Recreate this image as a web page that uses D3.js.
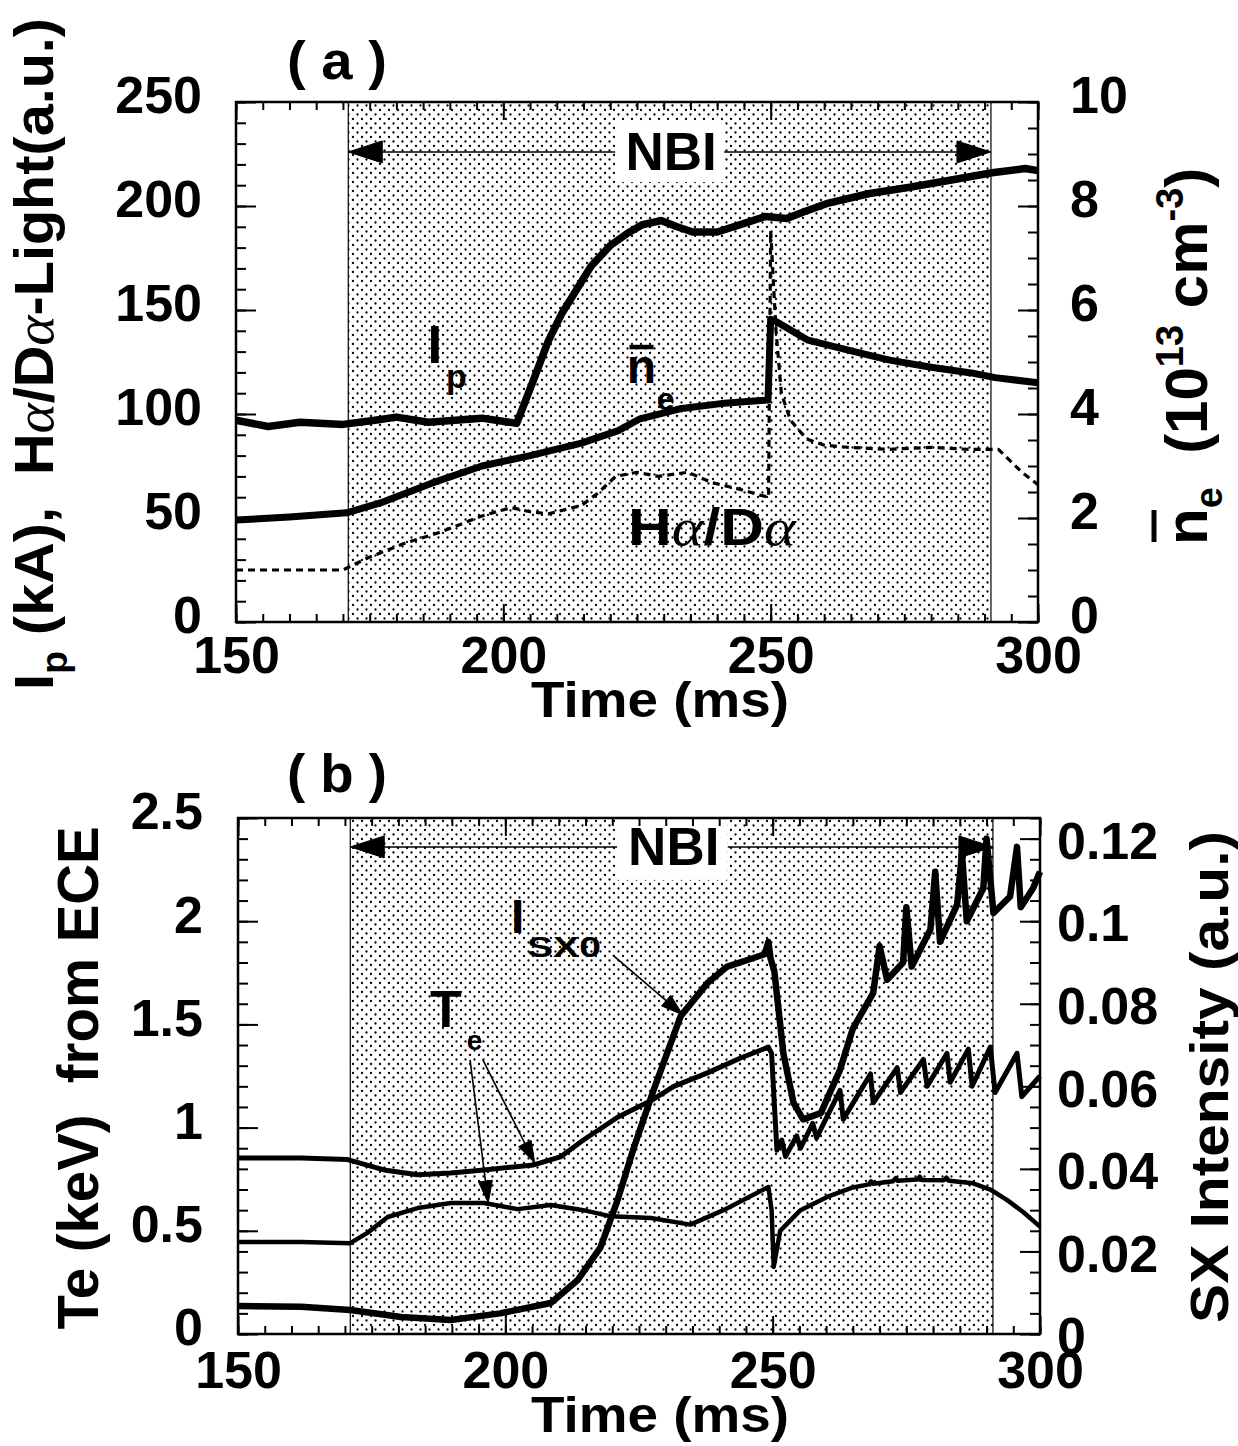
<!DOCTYPE html>
<html>
<head>
<meta charset="utf-8">
<script src="https://cdn.jsdelivr.net/npm/d3@7"></script>
<style>
  body { margin: 0; background: #fff; }
  svg text { font-family: "Liberation Sans", Arial, Helvetica, sans-serif; font-weight: bold; white-space: pre; }
  .greek { font-family: "Liberation Serif", "DejaVu Serif", serif; font-style: italic; font-weight: normal; }
</style>
</head>
<body>
<div id="chart"></div>
<script>
// ---- data ----
const timeDomain = [150, 300];
const nbiWindow = [171, 291.2];
const timeTicks = [150, 200, 250, 300];

// panel (a): plasma current (kA), line density (1e13 cm^-3), H-alpha/D-alpha light (a.u.)
const ipData = [[150,97],[156,94],[162,96],[170,95],[176,97],[180,98.5],[186,96],[196,98],[202.5,95.5],
  [205.6,116],[208.4,135],[211,148.6],[216.4,171],[220,181],[223.3,187],[226,191],[229.5,193],[232.5,190],
  [235.4,187.5],[240,187.5],[245.5,192],[249,195],[253,194],[256,197],[260.8,201.4],[268.5,206],[276,209],
  [283.8,212.5],[291.4,216],[297.6,218],[300,217]];
const neData = [[150,1.96],[160,2.02],[170.7,2.1],[177,2.29],[186.6,2.67],[196,3.0],[205,3.2],[214.6,3.44],
  [221.5,3.68],[225.4,3.9],[233,4.1],[240.7,4.2],[249.5,4.27],[250,5.82],[251,5.78],[257,5.42],[264.5,5.23],
  [272,5.04],[280,4.9],[287.5,4.79],[292,4.7],[300,4.6]];
const haData = [[150,25],[170,25],[174.8,31],[181.7,38],[188,43],[196,51],[201.5,55],[205,53],[208.4,52],
  [214.6,56],[217.7,62],[221,70],[225,72],[229,70],[234.5,72],[239,67],[244,64],[248,61],[249.6,60],
  [250,188],[251,140],[252,110],[253.7,97],[256.7,88],[260,85],[264.4,84],[272,83],[280,84],[287,83],
  [292.6,83],[295,77],[297,72],[300,66]];
const aLeftTicks = [0, 50, 100, 150, 200, 250];
const aRightTicks = [0, 2, 4, 6, 8, 10];

// panel (b): electron temperature from ECE (keV), soft X-ray intensity (a.u.)
const te1Data = [[150,0.853],[161.8,0.853],[170.5,0.845],[177.3,0.795],[183.6,0.772],[189.8,0.78],[196,0.795],
  [205.3,0.819],[210.3,0.858],[214.6,0.94],[221,1.05],[227.2,1.13],[231.5,1.2],[237.8,1.265],[244,1.337],
  [249.2,1.39],[249.8,1.36],[250.3,1.12],[250.8,0.89],[251.7,0.94],[252.4,0.86],[254.5,0.96],[255.2,0.9],
  [257.5,1.02],[258.2,0.95],[262.6,1.18],[263.2,1.04],[268.3,1.26],[268.8,1.12],[273.3,1.29],[273.9,1.17],
  [278.2,1.33],[278.9,1.2],[282.6,1.36],[283.2,1.22],[286.6,1.38],[287.3,1.2],[290.7,1.39],[291.6,1.17],
  [295.7,1.36],[296.6,1.15],[300,1.25]];
const te2Data = [[150,0.446],[161.8,0.446],[171,0.44],[174.2,0.49],[178,0.567],[183.6,0.61],[189.8,0.635],
  [196,0.635],[202.3,0.605],[208.5,0.625],[214.6,0.6],[219.7,0.57],[227.2,0.562],[234.6,0.53],[240.8,0.6],
  [249.2,0.712],[249.8,0.6],[250.2,0.325],[251.4,0.5],[255.2,0.6],[260.2,0.664],[265,0.71],[268,0.725],
  [268.4,0.74],[268.8,0.728],[272.5,0.74],[273,0.755],[273.4,0.742],[277,0.748],[277.5,0.762],[277.9,0.746],
  [282,0.745],[282.5,0.758],[283,0.742],[287.5,0.73],[290.7,0.70],[293.8,0.65],[296.9,0.59],[300,0.52]];
const sxData = [[150,0.0068],[161.8,0.0066],[171,0.0058],[180.5,0.0041],[189.8,0.0034],[199,0.005],
  [208.5,0.0075],[213.5,0.013],[217.8,0.021],[221,0.0325],[224,0.045],[227.7,0.059],[232.8,0.077],
  [237.8,0.085],[241.5,0.089],[245.3,0.0906],[248.5,0.092],[249.2,0.095],[249.6,0.091],[250.3,0.088],
  [252,0.068],[253.9,0.056],[255.7,0.052],[259,0.0535],[262.6,0.064],[265,0.074],[268.8,0.0826],[270,0.094],
  [271.4,0.0858],[274.4,0.09],[275,0.1034],[276,0.089],[279.5,0.098],[280.4,0.112],[281.3,0.095],
  [284.5,0.104],[285.4,0.1165],[286.3,0.1],[289.4,0.108],[290,0.12],[291.3,0.102],[294.4,0.106],
  [295.7,0.118],[296.4,0.1034],[298.7,0.108],[300,0.112]];
const bLeftTicks = [0, 0.5, 1, 1.5, 2, 2.5];
const bRightTicks = [0, 0.02, 0.04, 0.06, 0.08, 0.1, 0.12];

// ---- svg ----
const svg = d3.select("#chart").append("svg").attr("width", 1238).attr("height", 1446);

const pat = svg.append("defs").append("pattern")
  .attr("id", "dots").attr("patternUnits", "userSpaceOnUse")
  .attr("width", 9).attr("height", 9);
pat.append("rect").attr("width", 9).attr("height", 9).attr("fill", "#fff");
pat.append("circle").attr("cx", 2).attr("cy", 2).attr("r", 1.15).attr("fill", "#000");
pat.append("circle").attr("cx", 6.5).attr("cy", 6.5).attr("r", 1.15).attr("fill", "#000");

// line with a solid triangular head at (x2, y2)
function arrow(g, x1, y1, x2, y2, len, hw, sw) {
  const a = Math.atan2(y2 - y1, x2 - x1);
  const c = Math.cos(a), s = Math.sin(a);
  const bx = x2 - len * c, by = y2 - len * s;
  g.append("line").attr("x1", x1).attr("y1", y1).attr("x2", bx).attr("y2", by)
    .attr("stroke", "#000").attr("stroke-width", sw);
  g.append("path")
    .attr("d", `M${x2},${y2}L${bx - s * hw},${by + c * hw}L${bx + s * hw},${by - c * hw}Z`)
    .attr("fill", "#000").attr("stroke", "#000").attr("stroke-width", 1).attr("stroke-linejoin", "miter");
}

function tickAxis(g, axisFn, scale, values, len, translate, pad, fmt, dy) {
  const ax = axisFn(scale).tickValues(values).tickSizeInner(-len).tickSizeOuter(0)
    .tickPadding(pad).tickFormat(fmt || "");
  const sel = g.append("g").attr("transform", translate).call(ax);
  sel.select(".domain").remove();
  sel.selectAll("line").attr("stroke", "#000").attr("stroke-width", 2);
  sel.attr("font-size", 52).attr("font-weight", "bold");
  sel.selectAll("text").attr("fill", "#000");
  if (dy) sel.selectAll("text").attr("dy", dy);
  return sel;
}

function drawPanel(p) {
  const g = svg.append("g");
  const x = d3.scaleLinear().domain(timeDomain).range([p.x0, p.x1]);
  const yL = d3.scaleLinear().domain(p.left).range([p.yBot, p.yTop]);
  const yR = d3.scaleLinear().domain(p.right).range([p.yBot, p.yTop]);

  // NBI shaded window
  g.append("rect")
    .attr("x", x(nbiWindow[0])).attr("y", p.yTop)
    .attr("width", x(nbiWindow[1]) - x(nbiWindow[0])).attr("height", p.yBot - p.yTop)
    .attr("fill", "url(#dots)").attr("stroke", "#000").attr("stroke-width", 1.2);

  // NBI double arrow with label
  const ay = yL(p.nbi.arrowV);
  const mid = x(p.nbi.textT);
  arrow(g, mid, ay, x(nbiWindow[0]), ay, 34, 11, 1.5);
  arrow(g, mid, ay, x(nbiWindow[1]), ay, 34, 11, 1.5);
  g.append("rect")
    .attr("x", x(p.nbi.box[0])).attr("y", yL(p.nbi.box[3]))
    .attr("width", x(p.nbi.box[1]) - x(p.nbi.box[0]))
    .attr("height", yL(p.nbi.box[2]) - yL(p.nbi.box[3]))
    .attr("fill", "#fff");
  g.append("text").attr("x", mid).attr("y", yL(p.nbi.textV))
    .attr("text-anchor", "middle").attr("font-size", 53).text("NBI");

  // data lines
  p.series.forEach(s => {
    const sc = s.axis === "right" ? yR : yL;
    g.append("path").datum(s.data)
      .attr("d", d3.line().x(d => x(d[0])).y(d => sc(d[1])))
      .attr("fill", "none").attr("stroke", "#000")
      .attr("stroke-width", s.width)
      .attr("stroke-linejoin", "round")
      .attr("stroke-dasharray", s.dash || null);
  });

  // frame
  g.append("rect").attr("x", p.x0).attr("y", p.yTop)
    .attr("width", p.x1 - p.x0).attr("height", p.yBot - p.yTop)
    .attr("fill", "none").attr("stroke", "#000").attr("stroke-width", 2.5);

  // ticks: bottom / top
  const tMinor = d3.range(timeDomain[0], timeDomain[1] + 0.01, 5);
  tickAxis(g, d3.axisBottom, x, tMinor, 8, `translate(0,${p.yBot})`, 0);
  tickAxis(g, d3.axisBottom, x, timeTicks, 18, `translate(0,${p.yBot})`, p.bottomPad, d => String(d));
  tickAxis(g, d3.axisTop, x, tMinor, 8, `translate(0,${p.yTop})`, 0);
  tickAxis(g, d3.axisTop, x, timeTicks, 18, `translate(0,${p.yTop})`, 0);

  // left / right
  tickAxis(g, d3.axisLeft, yL, d3.range(p.left[0], p.left[1] + 1e-9, p.leftMinor), 10,
    `translate(${p.x0},0)`, 0);
  tickAxis(g, d3.axisLeft, yL, p.leftTicks, 20, `translate(${p.x0},0)`, p.leftPad,
    d => String(d), p.leftDy);
  tickAxis(g, d3.axisRight, yR, d3.range(p.right[0], p.right[1] + 1e-9, p.rightMinor), 10,
    `translate(${p.x1},0)`, 0);
  tickAxis(g, d3.axisRight, yR, p.rightTicks, 20, `translate(${p.x1},0)`, p.rightPad,
    d => String(d), p.rightDy);

  // x-axis title
  g.append("text").attr("x", p.titleX).attr("y", p.titleY)
    .attr("text-anchor", "middle").attr("font-size", 50)
    .attr("textLength", 258).attr("lengthAdjust", "spacingAndGlyphs")
    .text("Time (ms)");

  // panel label
  g.append("text").attr("x", 337).attr("y", p.tagY)
    .attr("text-anchor", "middle").attr("font-size", 54)
    .attr("textLength", 100).attr("lengthAdjust", "spacingAndGlyphs")
    .text(p.tag);

  p.annotate(g, x, yL, yR);
}

// ---- panel (a) ----
drawPanel({
  x0: 236, x1: 1038, yTop: 102, yBot: 622,
  left: [0, 250], right: [0, 10], leftMinor: 10, rightMinor: 0.5,
  leftTicks: aLeftTicks, rightTicks: aRightTicks,
  leftPad: 34, rightPad: 32, bottomPad: 14, leftDy: "0.21em", rightDy: "0.21em",
  titleX: 660, titleY: 717, tag: "( a )", tagY: 79,
  nbi: { arrowV: 226, textT: 231.4, textV: 217.3, box: [220.9, 241.3, 211.5, 240.4] },
  series: [
    { data: haData, axis: "left", width: 3.2, dash: "7,5" },
    { data: neData, axis: "right", width: 7 },
    { data: ipData, axis: "left", width: 7.5 }
  ],
  annotate(g, x, yL) {
    g.append("text").attr("x", x(185.8)).attr("y", yL(124.5)).attr("font-size", 53).text("I");
    g.append("text").attr("x", x(189.3)).attr("y", yL(112.5)).attr("font-size", 34).text("p");
    g.append("text").attr("x", x(223.1)).attr("y", yL(114.9)).attr("font-size", 48).text("n");
    g.append("line").attr("x1", x(223.6)).attr("x2", x(228.1))
      .attr("y1", yL(132.2)).attr("y2", yL(132.2)).attr("stroke", "#000").attr("stroke-width", 4.5);
    g.append("text").attr("x", x(228.7)).attr("y", yL(102)).attr("font-size", 32).text("e");
    const h = g.append("text").attr("x", x(223.3)).attr("y", yL(37)).attr("font-size", 52)
      .attr("textLength", 168).attr("lengthAdjust", "spacingAndGlyphs");
    h.append("tspan").text("H");
    h.append("tspan").attr("class", "greek").text("α");
    h.append("tspan").text("/D");
    h.append("tspan").attr("class", "greek").text("α");
  }
});

// ---- panel (b) ----
drawPanel({
  x0: 238, x1: 1040, yTop: 818, yBot: 1334,
  left: [0, 2.5], right: [0, 0.125], leftMinor: 0.1, rightMinor: 0.005,
  leftTicks: bLeftTicks, rightTicks: bRightTicks,
  leftPad: 35, rightPad: 17, bottomPad: 17, leftDy: "0.21em", rightDy: "0.38em",
  titleX: 660, titleY: 1432, tag: "( b )", tagY: 792,
  nbi: { arrowV: 2.36, textT: 231.5, textV: 2.272, box: [220.9, 241.6, 2.2, 2.5] },
  series: [
    { data: te2Data, axis: "left", width: 4.5 },
    { data: te1Data, axis: "left", width: 5 },
    { data: sxData, axis: "right", width: 6.5 }
  ],
  annotate(g, x, yL) {
    g.append("text").attr("x", x(201.06)).attr("y", yL(1.943)).attr("font-size", 48).text("I");
    g.append("text").attr("x", x(204.05)).attr("y", yL(1.827)).attr("font-size", 29)
      .attr("textLength", 74).attr("lengthAdjust", "spacingAndGlyphs").text("SX0");
    g.append("text").attr("x", x(185.9)).attr("y", yL(1.487)).attr("font-size", 52).text("T");
    g.append("text").attr("x", x(192.8)).attr("y", yL(1.376)).attr("font-size", 28).text("e");
    arrow(g, x(220.1), yL(1.836), x(233.2), yL(1.546), 22, 7, 1.6);
    arrow(g, x(193.4), yL(1.328), x(196.8), yL(0.635), 22, 7, 1.6);
    arrow(g, x(195.8), yL(1.328), x(205.5), yL(0.828), 22, 7, 1.6);
  }
});

// ---- rotated axis titles ----
const tA = svg.append("text").attr("transform", "translate(53,354) rotate(-90)")
  .attr("text-anchor", "middle").attr("font-size", 55)
  .attr("textLength", 672).attr("lengthAdjust", "spacingAndGlyphs");
tA.append("tspan").text("I");
tA.append("tspan").attr("font-size", 36).attr("dy", 14).text("p");
tA.append("tspan").attr("dy", -14).text(" (kA),  H");
tA.append("tspan").attr("class", "greek").text("α");
tA.append("tspan").text("/D");
tA.append("tspan").attr("class", "greek").text("α");
tA.append("tspan").text("-Light(a.u.)");

const rA = svg.append("g").attr("transform", "translate(1207,545) rotate(-90)");
const rAt = rA.append("text").attr("font-size", 60);
rAt.append("tspan").text("n");
rAt.append("tspan").attr("font-size", 38).attr("dy", 15).text("e");
rAt.append("tspan").attr("dy", -15).text("  (10");
rAt.append("tspan").attr("font-size", 38).attr("dy", -24).text("13");
rAt.append("tspan").attr("dy", 24).text(" cm");
rAt.append("tspan").attr("font-size", 38).attr("dy", -24).text("-3");
rAt.append("tspan").attr("dy", 24).text(")");
rA.append("line").attr("x1", 3).attr("x2", 35).attr("y1", -53).attr("y2", -53)
  .attr("stroke", "#000").attr("stroke-width", 5);

svg.append("text").attr("transform", "translate(98,1078) rotate(-90)")
  .attr("text-anchor", "middle").attr("font-size", 57)
  .attr("textLength", 503).attr("lengthAdjust", "spacingAndGlyphs")
  .text("Te (keV)  from ECE");

svg.append("text").attr("transform", "translate(1228,1077) rotate(-90)")
  .attr("text-anchor", "middle").attr("font-size", 53)
  .attr("textLength", 492).attr("lengthAdjust", "spacingAndGlyphs")
  .text("SX Intensity (a.u.)");
</script>
</body>
</html>
